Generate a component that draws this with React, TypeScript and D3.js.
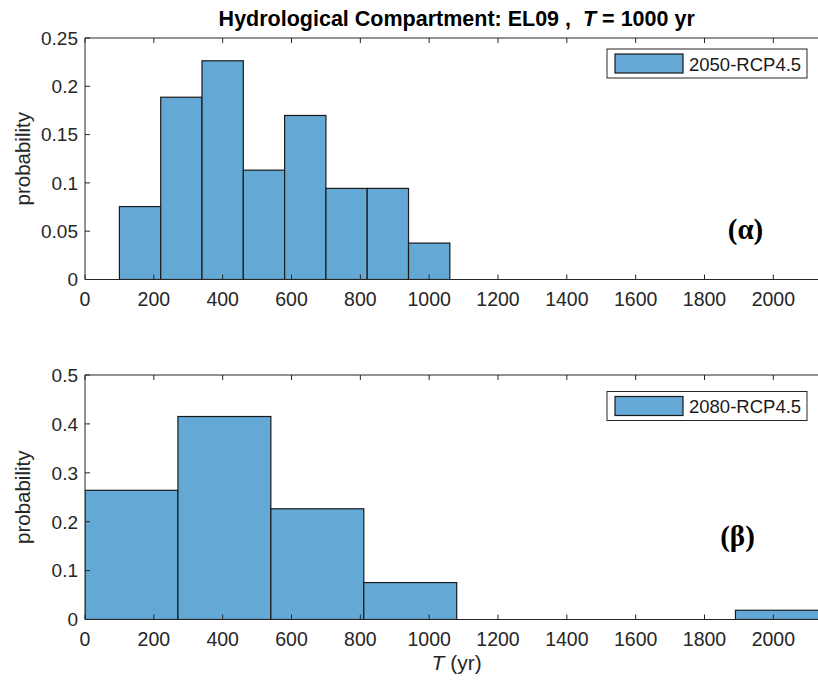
import React from "react";
import * as d3 from "d3";

// Top panel: 2050-RCP4.5 histogram (bin edges in yr, probabilities)
const binEdgesA = [100, 220, 340, 460, 580, 700, 820, 940, 1060];
const probA = [0.0755, 0.1887, 0.2264, 0.1132, 0.1698, 0.0943, 0.0943, 0.0377];
// Bottom panel: 2080-RCP4.5 histogram
const binEdgesB = [0, 270, 540, 810, 1080, 1350, 1620, 1890, 2160];
const probB = [0.2642, 0.4151, 0.2264, 0.0755, 0, 0, 0, 0.0189];

const xTicks = [0, 200, 400, 600, 800, 1000, 1200, 1400, 1600, 1800, 2000];
const yTicksA = [0, 0.05, 0.1, 0.15, 0.2, 0.25];
const yTicksB = [0, 0.1, 0.2, 0.3, 0.4, 0.5];
const legendA = "2050-RCP4.5";
const legendB = "2080-RCP4.5";
const panelLabelA = "(α)";
const panelLabelB = "(β)";

const W = 818;
const H = 681;
const FONT = "'Liberation Sans', Arial, Helvetica, sans-serif";
const AX = "#262626";
const FILL = "#64A9D6";
const EDGE = "#1a1a1a";

const left = 85;
const right = 828.4;
const x = d3.scaleLinear().domain([0, 2160]).range([left, right]);

type PanelProps = {
  top: number;
  bottom: number;
  ymax: number;
  yTicks: number[];
  edges: number[];
  probs: number[];
  legend: string;
  legY: number;
  label: string;
  labelPos: [number, number];
  yFmt: (v: number) => string;
  id: string;
};

function Panel(p: PanelProps) {
  const y = d3.scaleLinear().domain([0, p.ymax]).range([p.bottom, p.top]);
  const tl = 5;
  const legX = 607;
  const legY = p.legY;
  return (
    <g>
      <defs>
        <clipPath id={p.id}>
          <rect x={left} y={p.top} width={right - left} height={p.bottom - p.top} />
        </clipPath>
      </defs>
      <g clipPath={`url(#${p.id})`}>
        {p.probs.map((v, i) =>
          v > 0 ? (
            <rect
              key={i}
              x={x(p.edges[i])}
              y={y(v)}
              width={x(p.edges[i + 1]) - x(p.edges[i])}
              height={y(0) - y(v)}
              fill={FILL}
              stroke={EDGE}
              strokeWidth={1.2}
            />
          ) : null
        )}
      </g>
      {/* axes box */}
      <line x1={left} x2={right} y1={p.top} y2={p.top} stroke={AX} strokeWidth={1} />
      <line x1={left} x2={right} y1={p.bottom} y2={p.bottom} stroke={AX} strokeWidth={1} />
      <line x1={left} x2={left} y1={p.top} y2={p.bottom} stroke={AX} strokeWidth={1} />
      <line x1={right} x2={right} y1={p.top} y2={p.bottom} stroke={AX} strokeWidth={1} />
      {xTicks.map((t) => (
        <g key={t}>
          <line x1={x(t)} x2={x(t)} y1={p.bottom} y2={p.bottom - tl} stroke={AX} />
          <line x1={x(t)} x2={x(t)} y1={p.top} y2={p.top + tl} stroke={AX} />
          <text
            x={x(t)}
            y={p.bottom + 26.5}
            textAnchor="middle"
            fontFamily={FONT}
            fontSize={19.5}
            fill={AX}
          >
            {t}
          </text>
        </g>
      ))}
      {p.yTicks.map((t) => (
        <g key={t}>
          <line x1={left} x2={left + tl} y1={y(t)} y2={y(t)} stroke={AX} />
          <line x1={right} x2={right - tl} y1={y(t)} y2={y(t)} stroke={AX} />
          <text
            x={left - 7}
            y={y(t) + 6.8}
            textAnchor="end"
            fontFamily={FONT}
            fontSize={19}
            fill={AX}
          >
            {p.yFmt(t)}
          </text>
        </g>
      ))}
      <text
        transform={`translate(30,${(p.top + p.bottom) / 2}) rotate(-90)`}
        textAnchor="middle"
        fontFamily={FONT}
        fontSize={20.5}
        fill={AX}
      >
        probability
      </text>
      {/* legend */}
      <rect x={legX} y={legY} width={200} height={29} fill="#fff" stroke={AX} strokeWidth={1} />
      <rect x={legX + 8} y={legY + 5} width={68} height={19} fill={FILL} stroke={EDGE} strokeWidth={1.2} />
      <text x={legX + 82} y={legY + 21.5} fontFamily={FONT} fontSize={18.5} fill="#1a1a1a">
        {p.legend}
      </text>
      <text
        x={p.labelPos[0]}
        y={p.labelPos[1]}
        textAnchor="middle"
        fontFamily="'Liberation Serif', 'DejaVu Serif', serif"
        fontWeight="bold"
        fontSize={29}
        fill="#000"
      >
        {p.label}
      </text>
    </g>
  );
}

export default function App() {
  const fmt = (v: number) => (v === 0 ? "0" : String(+v.toFixed(2)));
  return (
    <svg
      width={W}
      height={H}
      style={{ position: "absolute", left: 0, top: 0, background: "#fff" }}
    >
      <rect x={0} y={0} width={W} height={H} fill="#fff" />
      <text
        x={(left + right) / 2}
        y={26}
        textAnchor="middle"
        fontFamily={FONT}
        fontWeight="bold"
        fontSize={21.5}
        fill="#000"
      >
        Hydrological Compartment: EL09 ,{"\u00A0\u00A0"}
        <tspan fontStyle="italic">T</tspan> = 1000 yr
      </text>
      <Panel
        id="clipA"
        top={38}
        bottom={279.5}
        ymax={0.25}
        yTicks={yTicksA}
        edges={binEdgesA}
        probs={probA}
        legend={legendA}
        legY={49}
        label={panelLabelA}
        labelPos={[745.5, 239]}
        yFmt={fmt}
      />
      <Panel
        id="clipB"
        top={375}
        bottom={619.5}
        ymax={0.5}
        yTicks={yTicksB}
        edges={binEdgesB}
        probs={probB}
        legend={legendB}
        legY={391.5}
        label={panelLabelB}
        labelPos={[737.5, 546]}
        yFmt={fmt}
      />
      <text x={(left + right) / 2} y={670} textAnchor="middle" fontFamily={FONT} fontSize={21} fill={AX}>
        <tspan fontStyle="italic">T</tspan> (yr)
      </text>
    </svg>
  );
}
